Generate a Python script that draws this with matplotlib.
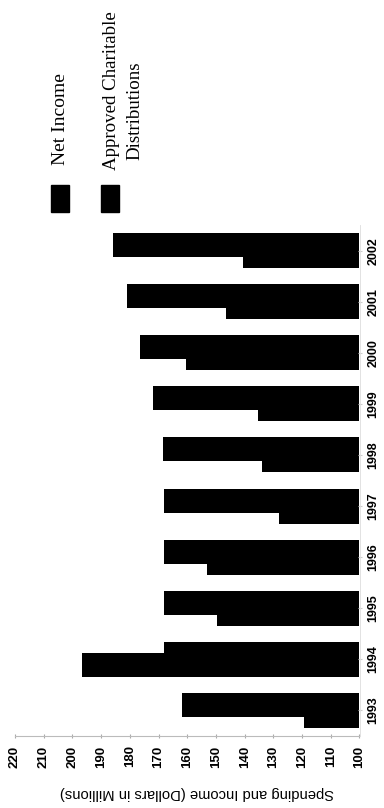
import matplotlib
matplotlib.use('Agg')
import matplotlib.pyplot as plt
import numpy as np
from matplotlib.patches import Rectangle

# chart is printed turned on its side: values run right-to-left, years bottom-to-top
years = ['1993', '1994', '1995', '1996', '1997', '1998', '1999', '2000', '2001', '2002']
net_income = [119.5, 196.5, 149.5, 153, 128, 134, 135.5, 160.5, 146.5, 140.5]
distributions = [162, 168, 168, 168, 168, 168.5, 172, 176.5, 181, 186]
value_ticks = [100, 110, 120, 130, 140, 150, 160, 170, 180, 190, 200, 210, 220]
legend_labels = ['Net Income', 'Approved Charitable', 'Distributions']
axis_label = 'Spending and Income (Dollars in Millions)'

W, H = 384, 808
fig = plt.figure(figsize=(W / 100, H / 100), dpi=100)

ax = fig.add_axes([15 / W, 1 - 735.7 / H, 344.5 / W, 510.4 / H])
pos = np.arange(len(years))
base = 100
ax.barh(pos - 0.108, np.array(net_income) - base, left=base, height=0.47, color='black')
ax.barh(pos + 0.108, np.array(distributions) - base, left=base, height=0.47, color='black')

ax.set_xlim(220, 100)
ax.set_ylim(-0.5, 9.5)

ax.set_xticks(value_ticks)
ax.set_xticklabels([str(v) for v in value_ticks], rotation=90, fontsize=9.5,
                   family='Liberation Sans', fontweight='bold')
ax.yaxis.tick_right()
ax.set_yticks(pos)
ax.set_yticklabels(years, rotation=90, va='center', fontsize=9,
                   family='Liberation Sans', fontweight='bold')

ax.tick_params(axis='x', direction='inout', length=3, color='#aaaaaa', pad=5.5)
ax.tick_params(axis='y', direction='inout', length=3, color='#cccccc', pad=4)

for s in ['top', 'left']:
    ax.spines[s].set_visible(False)
ax.spines['bottom'].set_color('#bbbbbb')
ax.spines['bottom'].set_linewidth(0.8)
ax.spines['right'].set_color('#dddddd')
ax.spines['right'].set_linewidth(0.6)

fig.text(197 / W, 1 - 793 / H, axis_label, rotation=180, ha='center', va='center',
         fontsize=10.6, family='Liberation Sans')

# legend drawn by hand so its text can stand upright like the rest
fig.patches.append(Rectangle((51 / W, 1 - 212 / H), 18 / W, 27 / H,
                             transform=fig.transFigure, color='black'))
fig.patches.append(Rectangle((101 / W, 1 - 212 / H), 18 / W, 27 / H,
                             transform=fig.transFigure, color='black'))
fig.text(60.5 / W, 1 - 165 / H, legend_labels[0], rotation=90, ha='center', va='bottom',
         fontsize=14, family='Liberation Serif')
fig.text(111.5 / W, 1 - 170 / H, legend_labels[1], rotation=90, ha='center', va='bottom',
         fontsize=13.6, family='Liberation Serif')
fig.text(135 / W, 1 - 160 / H, legend_labels[2], rotation=90, ha='center', va='bottom',
         fontsize=13.6, family='Liberation Serif')

fig.savefig('out.png', dpi=100)
